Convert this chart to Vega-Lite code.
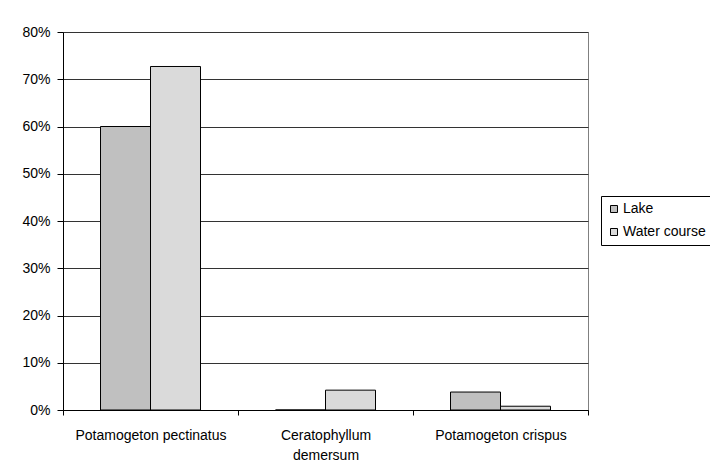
{
  "$schema": "https://vega.github.io/schema/vega-lite/v6.json",
  "width": 525,
  "height": 378,
  "autosize": {"type": "none"},
  "padding": {"left": 63, "top": 32, "right": 122, "bottom": 64},
  "background": "white",
  "config": {
    "font": "Liberation Sans",
    "view": {"stroke": "#808080", "strokeWidth": 1}
  },
  "data": {
    "values": [
      {"species": "Potamogeton pectinatus", "site": "Lake", "share": 0.60},
      {"species": "Potamogeton pectinatus", "site": "Water course", "share": 0.727},
      {"species": "Ceratophyllum demersum", "site": "Lake", "share": 0.0},
      {"species": "Ceratophyllum demersum", "site": "Water course", "share": 0.042},
      {"species": "Potamogeton crispus", "site": "Lake", "share": 0.038},
      {"species": "Potamogeton crispus", "site": "Water course", "share": 0.008}
    ]
  },
  "mark": {"type": "bar", "stroke": "black", "strokeWidth": 1},
  "encoding": {
    "x": {
      "field": "species",
      "type": "nominal",
      "sort": null,
      "title": null,
      "scale": {"paddingInner": 0, "paddingOuter": 0},
      "axis": {
        "tickBand": "extent",
        "labelAngle": 0,
        "labelFontSize": 14,
        "labelColor": "black",
        "labelPadding": 13,
        "labelLineHeight": 20,
        "labelExpr": "datum.value == 'Ceratophyllum demersum' ? ['Ceratophyllum', 'demersum'] : datum.value",
        "domainColor": "black",
        "tickColor": "black",
        "tickSize": 5,
        "grid": false
      }
    },
    "xOffset": {
      "field": "site",
      "type": "nominal",
      "scale": {"paddingInner": 0, "paddingOuter": 0.75}
    },
    "y": {
      "field": "share",
      "type": "quantitative",
      "title": null,
      "scale": {"domain": [0, 0.8], "nice": false},
      "axis": {
        "values": [0, 0.1, 0.2, 0.3, 0.4, 0.5, 0.6, 0.7, 0.8],
        "format": ".0%",
        "labelFontSize": 14,
        "labelColor": "black",
        "labelPadding": 7,
        "tickSize": 6,
        "tickColor": "black",
        "domainColor": "black",
        "gridColor": "#333333",
        "gridOpacity": 1
      }
    },
    "color": {
      "field": "site",
      "type": "nominal",
      "scale": {"domain": ["Lake", "Water course"], "range": ["#C0C0C0", "#DADADA"]},
      "legend": {
        "title": null,
        "orient": "none",
        "legendX": 538,
        "legendY": 164,
        "symbolType": "square",
        "symbolSize": 49,
        "symbolStrokeColor": "black",
        "symbolStrokeWidth": 1,
        "symbolOpacity": 1,
        "labelFontSize": 14,
        "labelColor": "black",
        "labelOffset": 2,
        "rowPadding": 9,
        "padding": 6,
        "strokeColor": "black",
        "fillColor": "white",
        "cornerRadius": 0
      }
    }
  }
}
